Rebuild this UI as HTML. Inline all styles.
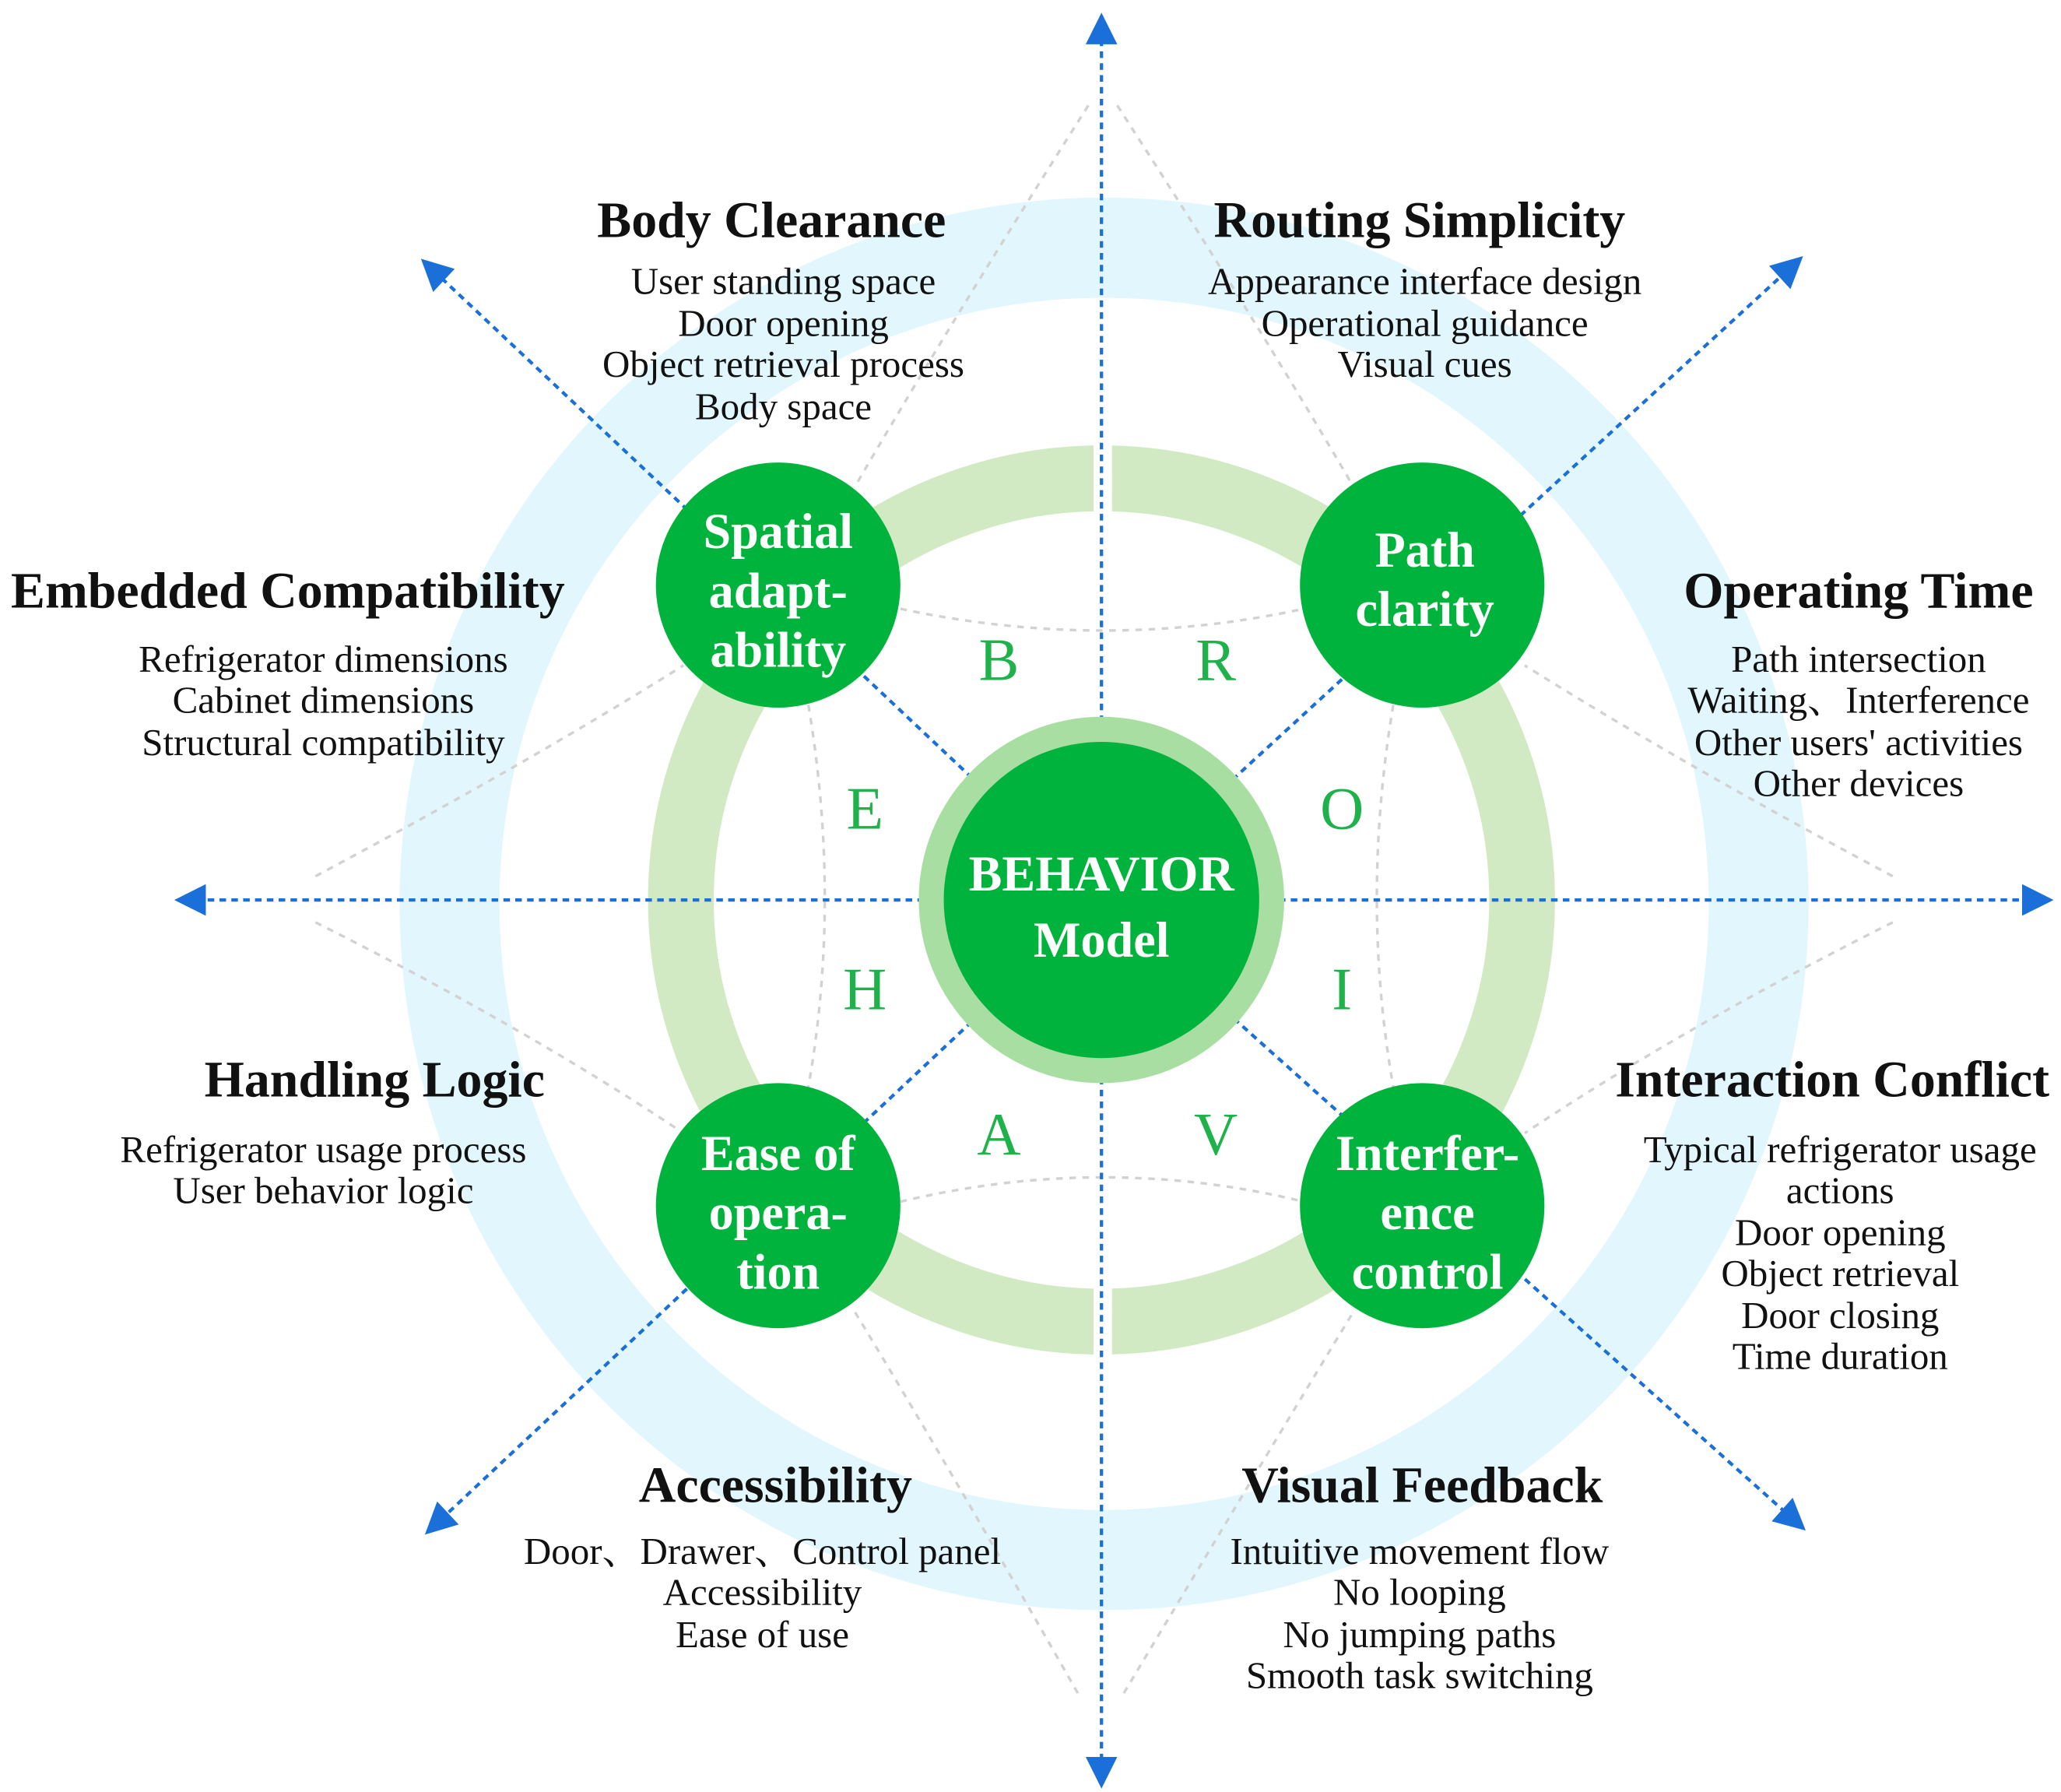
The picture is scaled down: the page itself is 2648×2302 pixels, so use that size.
<!DOCTYPE html>
<html><head><meta charset="utf-8"><style>
html,body{margin:0;padding:0;background:#fff;}
svg{display:block;}
.h{font-family:"Liberation Serif","Noto Serif CJK SC",serif;font-weight:bold;font-size:39px;fill:#111;text-anchor:middle;}
.b{font-family:"Liberation Serif","Noto Serif CJK SC",serif;font-size:29px;fill:#111;text-anchor:middle;}
.n{font-family:"Liberation Serif",serif;font-weight:bold;font-size:38px;fill:#fff;text-anchor:middle;}
.L{font-family:"Liberation Serif",serif;font-size:46px;fill:#1fb24a;text-anchor:middle;}
</style></head><body>
<svg width="2648" height="2302" viewBox="0 0 1568 1360" preserveAspectRatio="none" xmlns="http://www.w3.org/2000/svg">
<defs><marker id="a2" viewBox="0 0 10 10" refX="9" refY="5" markerWidth="28" markerHeight="24" markerUnits="userSpaceOnUse" orient="auto"><path d="M0,0L10,5L0,10z" fill="#1a6fd8"/></marker></defs>
<circle cx="840" cy="686" r="498" fill="none" stroke="#e1f6fd" stroke-width="76"/>
<g fill="none" stroke="#d2d2d2" stroke-width="2" stroke-dasharray="5,5">
<path d="M828,80 Q720,250 650,370"/><path d="M850,80 Q960,250 1030,370"/>
<path d="M240,665 Q400,580 520,505"/><path d="M240,700 Q400,780 520,860"/>
<path d="M1440,665 Q1280,580 1160,505"/><path d="M1440,700 Q1280,780 1160,860"/>
<path d="M820,1285 Q720,1110 650,995"/><path d="M855,1285 Q960,1110 1030,995"/>
<path d="M685,462 Q840,495 992,462"/><path d="M685,912 Q840,875 992,912"/>
<path d="M615,535 Q640,683 615,825"/><path d="M1060,535 Q1035,683 1060,825"/>
</g>
<circle cx="838" cy="683" r="320" fill="none" stroke="#d2eac3" stroke-width="50"/>
<rect x="832" y="330" width="14" height="60" fill="#fff"/>
<rect x="832" y="975" width="14" height="60" fill="#fff"/>
<g stroke="#1a6fd8" stroke-width="2.5" stroke-dasharray="5,4" fill="none">
<line x1="838" y1="683" x2="838" y2="12" marker-end="url(#a2)"/>
<line x1="838" y1="683" x2="838" y2="1355" marker-end="url(#a2)"/>
<line x1="838" y1="683" x2="135" y2="683" marker-end="url(#a2)"/>
<line x1="838" y1="683" x2="1560" y2="683" marker-end="url(#a2)"/>
<line x1="838" y1="683" x2="322" y2="198" marker-end="url(#a2)"/>
<line x1="838" y1="683" x2="1370" y2="196" marker-end="url(#a2)"/>
<line x1="838" y1="683" x2="325" y2="1163" marker-end="url(#a2)"/>
<line x1="838" y1="683" x2="1372" y2="1160" marker-end="url(#a2)"/>
</g>
<circle cx="838" cy="683" r="139" fill="#a9dea3"/>
<circle cx="838" cy="683" r="120" fill="#00b33c"/>
<text class="n" x="838" y="676" font-size="48">BEHAVIOR</text>
<text class="n" x="838" y="726" font-size="48">Model</text>
<g fill="#00b33c"><circle cx="592" cy="444" r="93"/><circle cx="1082" cy="444" r="93"/><circle cx="592" cy="915" r="93"/><circle cx="1082" cy="915" r="93"/></g>
<text class="n" x="592" y="416">Spatial</text><text class="n" x="592" y="461">adapt-</text><text class="n" x="592" y="506">ability</text>
<text class="n" x="1084" y="430">Path</text><text class="n" x="1084" y="475">clarity</text>
<text class="n" x="592" y="888">Ease of</text><text class="n" x="592" y="933">opera-</text><text class="n" x="592" y="978">tion</text>
<text class="n" x="1086" y="888">Interfer-</text><text class="n" x="1086" y="933">ence</text><text class="n" x="1086" y="978">control</text>
<text class="L" x="760" y="516">B</text><text class="L" x="925" y="516">R</text>
<text class="L" x="658" y="629">E</text><text class="L" x="1021" y="629">O</text>
<text class="L" x="658" y="766">H</text><text class="L" x="1021" y="766">I</text>
<text class="L" x="760" y="876">A</text><text class="L" x="925" y="876">V</text>
<text class="h" x="587" y="180">Body Clearance</text>
<text class="b" x="596" y="223">User standing space</text><text class="b" x="596" y="255">Door opening</text><text class="b" x="596" y="286">Object retrieval process</text><text class="b" x="596" y="318">Body space</text>
<text class="h" x="1080" y="180">Routing Simplicity</text>
<text class="b" x="1084" y="223">Appearance interface design</text><text class="b" x="1084" y="255">Operational guidance</text><text class="b" x="1084" y="286">Visual cues</text>
<text class="h" x="219" y="461">Embedded Compatibility</text>
<text class="b" x="246" y="510">Refrigerator dimensions</text><text class="b" x="246" y="541">Cabinet dimensions</text><text class="b" x="246" y="573">Structural compatibility</text>
<text class="h" x="1414" y="461">Operating Time</text>
<text class="b" x="1414" y="510">Path intersection</text><text class="b" x="1414" y="541">Waiting、Interference</text><text class="b" x="1414" y="573">Other users' activities</text><text class="b" x="1414" y="604">Other devices</text>
<text class="h" x="285" y="832">Handling Logic</text>
<text class="b" x="246" y="882">Refrigerator usage process</text><text class="b" x="246" y="913">User behavior logic</text>
<text class="h" x="1394" y="832">Interaction Conflict</text>
<text class="b" x="1400" y="882">Typical refrigerator usage</text><text class="b" x="1400" y="913">actions</text><text class="b" x="1400" y="945">Door opening</text><text class="b" x="1400" y="976">Object retrieval</text><text class="b" x="1400" y="1008">Door closing</text><text class="b" x="1400" y="1039">Time duration</text>
<text class="h" x="590" y="1140">Accessibility</text>
<text class="b" x="580" y="1187">Door、Drawer、Control panel</text><text class="b" x="580" y="1218">Accessibility</text><text class="b" x="580" y="1250">Ease of use</text>
<text class="h" x="1082" y="1140">Visual Feedback</text>
<text class="b" x="1080" y="1187">Intuitive movement flow</text><text class="b" x="1080" y="1218">No looping</text><text class="b" x="1080" y="1250">No jumping paths</text><text class="b" x="1080" y="1281">Smooth task switching</text>
</svg>
</body></html>
